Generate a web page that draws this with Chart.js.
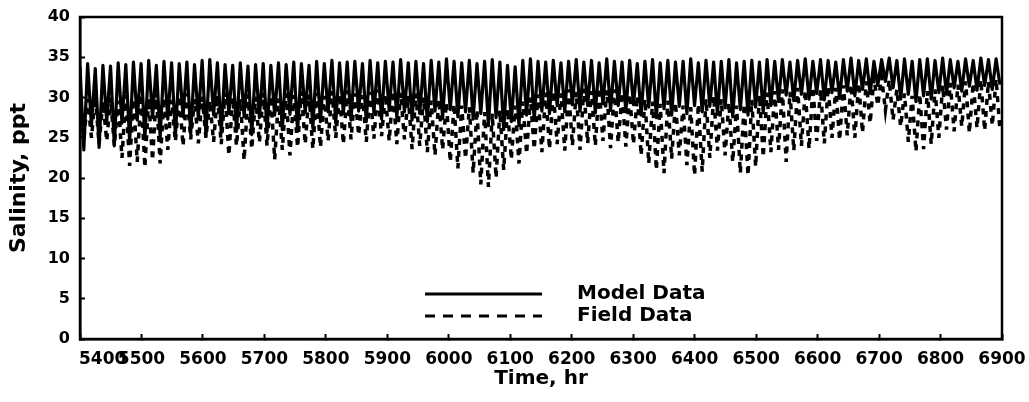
<!DOCTYPE html>
<html><head><meta charset="utf-8">
<script src="https://cdn.jsdelivr.net/npm/chart.js@4/dist/chart.umd.min.js"></script>
<style>html,body{margin:0;padding:0;background:#fff;} #wrap{width:1029px;height:402px;}</style>
</head><body><div id="wrap"><canvas id="c" width="1029" height="402"></canvas></div>
<script>
// ---- data (one value per tidal cycle) ----
const timeStart = 5400;          // hr, first tidal cycle
const tidalPeriod = 12.42;       // hr, semidiurnal cycle spacing
const seriesLabels = ['Model Data', 'Field Data'];
const xTickValues = [5400,5500,5600,5700,5800,5900,6000,6100,6200,6300,6400,6500,6600,6700,6800,6900];
const yTickValues = [0,5,10,15,20,25,30,35,40];

const modelHigh = [
 33.8,34.2,33.6,34.0,33.9,34.3,34.1,34.4,34.2,34.6,
 34.0,34.5,34.3,34.2,34.4,34.1,34.6,34.7,34.3,34.1,
 34.0,34.3,33.9,34.1,34.2,34.0,34.3,34.1,34.4,34.2,
 34.0,
 34.5,34.2,34.6,34.3,34.4,34.5,34.2,34.6,34.3,34.5,
 34.4,34.7,34.3,34.5,34.2,34.6,34.4,34.8,34.5,34.3,
 34.6,34.2,34.5,34.7,34.4,34.0,33.8,34.6,34.8,34.5,
 34.4,34.6,34.3,34.5,34.7,34.4,34.6,34.3,34.8,34.5,
 34.4,34.6,34.2,34.5,34.7,34.3,34.6,34.4,34.5,34.8,
 34.3,34.6,34.4,34.5,34.7,34.3,34.5,34.6,34.4,34.7,
 34.5,34.7,34.4,34.6,34.8,34.5,34.7,34.6,34.4,34.7,
 34.9,34.6,34.8,34.5,34.7,34.9,34.6,34.8,34.5,34.7,
 34.8,34.6,34.9,34.7,34.5,34.8,34.6,34.9,34.7,34.8
];
const modelLow = [
 23.5,26.5,23.8,27.0,24.0,26.8,24.5,27.2,24.8,27.5,
 25.0,27.3,25.2,27.6,25.5,27.4,25.3,27.8,25.6,28.0,
 25.8,27.6,25.4,27.5,25.7,27.8,26.0,27.9,25.8,28.1,
 26.2,
 27.0,28.2,26.8,28.0,27.2,28.3,27.0,28.1,27.3,28.4,
 27.5,28.2,27.2,28.0,27.0,28.3,27.4,28.5,27.6,28.2,
 27.3,28.0,26.5,27.5,26.0,27.0,26.5,27.8,27.2,28.3,
 28.0,29.0,28.2,29.1,28.3,29.0,28.1,29.2,28.4,29.0,
 28.2,29.1,27.8,28.8,27.5,28.6,27.8,28.9,28.0,29.0,
 28.2,28.9,27.9,28.7,27.6,28.5,27.8,28.8,28.1,29.0,
 29.5,30.3,29.6,30.4,29.8,30.5,29.7,30.6,29.9,30.8,
 30.2,31.0,30.5,31.5,32.0,31.2,29.8,30.4,29.5,30.2,
 29.8,30.6,30.4,31.2,30.8,31.4,30.9,31.5,31.0,31.6
];
const fieldHigh = [
 30.5,29.8,30.2,29.5,30.0,29.6,30.3,29.8,30.4,29.9,
 30.6,30.0,29.7,30.2,30.5,29.8,30.1,29.6,30.3,30.7,
 30.0,29.8,30.4,30.1,30.6,30.2,29.9,30.5,30.3,30.8,
 30.4,
 30.6,30.2,30.8,30.4,30.9,30.5,30.3,30.7,31.0,30.4,
 30.8,30.6,30.2,30.5,30.0,29.6,29.8,29.4,29.2,29.0,
 28.8,28.5,28.2,28.0,28.4,28.6,29.0,29.5,30.0,30.4,
 30.6,30.8,30.5,31.0,30.7,31.1,30.8,31.2,30.9,31.0,
 30.6,30.4,30.2,29.8,29.5,29.2,29.6,29.4,29.0,28.8,
 29.2,29.8,30.2,29.8,29.4,29.0,29.2,29.7,30.3,30.6,
 30.8,31.0,30.7,31.2,30.9,31.3,31.0,31.4,31.2,31.5,
 31.6,31.8,32.0,32.4,32.6,32.2,31.0,30.5,30.2,30.4,
 30.8,31.0,31.5,31.8,31.6,32.0,31.8,32.2,32.0,32.3
];
const fieldLow = [
 24.8,25.0,24.2,24.6,24.0,22.5,21.5,22.0,21.3,22.2,
 21.8,23.5,24.5,24.0,24.8,24.3,25.0,24.5,24.2,22.8,
 24.0,22.2,23.6,24.4,24.0,22.3,23.5,22.8,23.8,24.2,
 23.6,
 23.8,24.6,25.0,24.2,24.8,25.3,24.5,24.9,25.2,24.6,
 24.2,24.8,23.6,24.0,23.2,22.8,23.5,22.0,21.2,22.4,
 20.6,19.2,18.9,20.0,21.0,22.3,21.8,23.0,23.6,23.2,
 23.6,24.2,23.4,24.0,23.5,24.3,24.0,24.6,23.7,24.4,
 23.9,24.2,22.8,21.8,21.0,20.6,22.4,22.8,21.6,20.3,
 20.8,22.5,23.4,22.8,22.0,20.6,20.3,21.4,22.6,23.2,
 23.5,22.0,23.4,24.0,23.6,24.6,24.3,25.0,24.7,25.3,
 25.0,25.6,26.8,29.0,28.4,27.2,26.4,24.5,23.3,23.6,
 24.2,25.0,26.0,25.8,26.4,25.6,26.2,25.9,26.5,26.0
];

// high water at the start of each cycle, low water half a cycle later
function tidePoints(high, low) {
  const pts = [];
  for (let i = 0; i < high.length; i++) {
    const t = timeStart + i * tidalPeriod;
    pts.push({x: t, y: high[i]});
    pts.push({x: t + tidalPeriod / 2, y: low[i]});
  }
  return pts;
}

const FONT = "'DejaVu Sans', 'Liberation Sans', sans-serif";

const framePlugin = {
  id: 'frame',
  afterDraw(chart) {
    const {ctx, chartArea: a} = chart;
    ctx.save();
    ctx.strokeStyle = '#000';
    ctx.lineWidth = 2.5;
    ctx.strokeRect(a.left, a.top, a.right - a.left, a.bottom - a.top);
    ctx.restore();
  }
};

// x tick labels, placed from the x scale's own ticks (first one starts at the axis, as in the original)
const xLabelPlugin = {
  id: 'xLabels',
  afterDraw(chart) {
    const xs = chart.scales.x;
    const ctx = chart.ctx;
    ctx.save();
    ctx.fillStyle = '#000';
    ctx.font = 'bold 17px ' + FONT;
    ctx.textBaseline = 'middle';
    xs.ticks.forEach((t, i) => {
      const px = xs.getPixelForValue(t.value);
      ctx.textAlign = i === 0 ? 'left' : 'center';
      ctx.fillText(String(t.value), i === 0 ? px - 1 : px, xs.top + 21);
    });
    ctx.restore();
  }
};

const legendPlugin = {
  id: 'innerLegend',
  afterDraw(chart) {
    const ctx = chart.ctx;
    const rows = [294, 316];
    ctx.save();
    chart.data.datasets.forEach((ds, i) => {
      const y = rows[i];
      ctx.strokeStyle = ds.borderColor;
      ctx.lineWidth = 3;
      ctx.setLineDash(ds.borderDash ? [10, 8] : []);
      ctx.beginPath();
      ctx.moveTo(425, y);
      ctx.lineTo(542, y);
      ctx.stroke();
      ctx.setLineDash([]);
      ctx.fillStyle = '#000';
      ctx.font = 'bold 20px ' + FONT;
      ctx.textAlign = 'left';
      ctx.textBaseline = 'middle';
      ctx.fillText(ds.label, 577, y);
    });
    ctx.restore();
  }
};

new Chart(document.getElementById('c'), {
  type: 'line',
  data: {
    datasets: [
      {label: seriesLabels[0], data: tidePoints(modelHigh, modelLow),
       borderColor: '#000', borderWidth: 3.2, pointRadius: 0, tension: 0,
       borderJoinStyle: 'round', fill: false},
      {label: seriesLabels[1], data: tidePoints(fieldHigh, fieldLow),
       borderColor: '#000', borderWidth: 3.5, borderDash: [6, 6], pointRadius: 0, tension: 0,
       fill: false}
    ]
  },
  options: {
    responsive: false, animation: false, devicePixelRatio: 1,
    layout: {padding: {left: 0, right: 27, top: 17, bottom: 0}},
    plugins: {legend: {display: false}, tooltip: {enabled: false}},
    scales: {
      x: {
        type: 'linear', min: 5400, max: 6900,
        afterFit(s) { s.height = 63; s.paddingLeft = 0; s.paddingRight = 0; },
        afterBuildTicks(s) { s.ticks = xTickValues.map(v => ({value: v})); },
        border: {display: true, color: '#000', width: 2.5},
        grid: {drawOnChartArea: false, drawTicks: true, tickLength: -5, tickWidth: 2, color: '#000'},
        ticks: {display: false, autoSkip: false, maxRotation: 0},
        title: {display: true, text: 'Time, hr', color: '#000',
                font: {family: FONT, weight: 'bold', size: 20}, padding: {top: 0, bottom: 11}}
      },
      y: {
        min: 0, max: 40,
        afterFit(s) { s.width = 80; s.paddingTop = 0; s.paddingBottom = 0; },
        afterBuildTicks(s) { s.ticks = yTickValues.map(v => ({value: v})); },
        border: {display: true, color: '#000', width: 2.5},
        grid: {drawOnChartArea: false, drawTicks: true, tickLength: -5, tickWidth: 2, color: '#000'},
        ticks: {color: '#000', font: {family: FONT, weight: 'bold', size: 16}, padding: 15},
        title: {display: true, text: 'Salinity, ppt', color: '#000',
                font: {family: FONT, weight: 'bold', size: 22}, padding: {top: 6, bottom: 0}}
      }
    }
  },
  plugins: [framePlugin, xLabelPlugin, legendPlugin]
});
</script>
</body></html>
